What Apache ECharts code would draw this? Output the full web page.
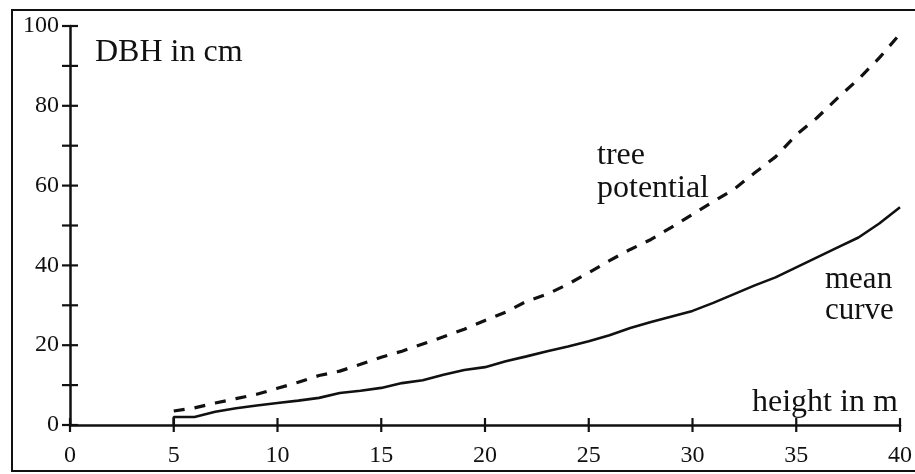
<!DOCTYPE html>
<html>
<head>
<meta charset="utf-8">
<script src="https://cdn.jsdelivr.net/npm/echarts@6/dist/echarts.min.js"></script>
<style>
html,body{margin:0;padding:0;background:#fff;}
#chart{width:915px;height:474px;}
</style>
</head>
<body>
<div id="chart"></div>
<script>
// Data
var xTicks = [0, 5, 10, 15, 20, 25, 30, 35, 40];
var yTicks = [0, 10, 20, 30, 40, 50, 60, 70, 80, 90, 100];
var yTickLabels = [0, 20, 40, 60, 80, 100];
var potentialHeights = [5,6,7,8,9,10,11,12,13,14,15,16,17,18,19,20,21,22,23,24,25,26,27,28,29,30,31,32,33,34,35,36,37,38,39,40];
var treePotential = [3.5,4.3,5.5,6.6,7.7,9.2,10.7,12.4,13.5,15.2,17.0,18.5,20.3,22.1,24.0,26.2,28.3,31.0,32.8,35.3,38.2,41.2,44.0,46.5,49.6,52.8,56.0,59.1,63.2,67.2,72.7,77.0,82.0,86.7,92.0,98.0];
var meanHeights = [5,5,6,7,8,9,10,11,12,13,14,15,16,17,18,19,20,21,22,23,24,25,26,27,28,29,30,31,32,33,34,35,36,37,38,39,40];
var meanCurve = [0,2,2,3.3,4.2,4.9,5.5,6.1,6.8,8.0,8.6,9.3,10.5,11.2,12.6,13.8,14.5,16.0,17.2,18.5,19.7,21.0,22.5,24.3,25.8,27.2,28.6,30.6,32.8,35.0,37.0,39.5,42.0,44.5,47.0,50.5,54.6];
var yAxisTitle = 'DBH in cm';
var xAxisTitle = 'height in m';
var potentialLabel = ['tree', 'potential'];
var meanLabel = ['mean', 'curve'];

function pairs(xs, ys){ return xs.map(function(x,i){ return [x, ys[i]]; }); }

var FONT = '"Liberation Serif", "DejaVu Serif", serif';
var INK = '#111';

var chart = echarts.init(document.getElementById('chart'), null, {renderer:'canvas'});

var option = {
  animation:false,
  backgroundColor:'#fff',
  grid:{left:70, right:13, top:26, bottom:49, containLabel:false},
  xAxis:{
    type:'value', min:0, max:40, interval:5,
    axisLine:{show:true, onZero:false, lineStyle:{color:INK, width:2.5}},
    splitLine:{show:false},
    axisTick:{show:false},
    axisLabel:{show:true, margin:19, color:INK, fontFamily:FONT, fontSize:24,
      formatter:function(v){ return xTicks.indexOf(v) >= 0 ? String(v) : ''; }}
  },
  yAxis:{
    type:'value', min:0, max:100, interval:10,
    axisLine:{show:true, onZero:false, lineStyle:{color:INK, width:2.5}},
    splitLine:{show:false},
    axisTick:{show:false},
    axisLabel:{show:true, margin:11, color:INK, fontFamily:FONT, fontSize:24,
      formatter:function(v){ return yTickLabels.indexOf(v) >= 0 ? String(v) : ''; }}
  },
  series:[
    {
      name:'tree potential', type:'line',
      data:pairs(potentialHeights, treePotential),
      showSymbol:false, smooth:false,
      lineStyle:{color:INK, width:3.2, type:[11,10]}
    },
    {
      name:'mean curve', type:'line',
      data:pairs(meanHeights, meanCurve),
      showSymbol:false, smooth:false,
      lineStyle:{color:INK, width:2.6}
    },
    {
      name:'y ticks', type:'custom', silent:true, clip:false,
      data:yTicks.map(function(v){ return [0, v]; }),
      renderItem:function(params, api){
        var p = api.coord([api.value(0), api.value(1)]);
        return {type:'line', shape:{x1:p[0]-8, y1:p[1], x2:p[0]+8, y2:p[1]},
          style:{stroke:INK, lineWidth:2.2}};
      }
    },
    {
      name:'x ticks', type:'custom', silent:true, clip:false,
      data:xTicks.map(function(v){ return [v, 0]; }),
      renderItem:function(params, api){
        var p = api.coord([api.value(0), api.value(1)]);
        return {type:'line', shape:{x1:p[0], y1:p[1]-7, x2:p[0], y2:p[1]+7},
          style:{stroke:INK, lineWidth:2.2}};
      }
    }
  ],
  graphic:[
    {type:'rect', shape:{x:12, y:10, width:915, height:461},
      style:{fill:'none', stroke:INK, lineWidth:2}, silent:true},
    {type:'text', left:95, top:37, style:{text:yAxisTitle, font:'32px ' + FONT, fill:INK}},
    {type:'text', left:752, top:387, style:{text:xAxisTitle, font:'32px ' + FONT, fill:INK}},
    {type:'text', left:597, top:139, style:{text:potentialLabel.join('\n'), font:'32px ' + FONT, fill:INK, lineHeight:33}},
    {type:'text', left:825, top:264, style:{text:meanLabel.join('\n'), font:'31px ' + FONT, fill:INK, lineHeight:31}}
  ]
};
chart.setOption(option);
</script>
</body>
</html>
